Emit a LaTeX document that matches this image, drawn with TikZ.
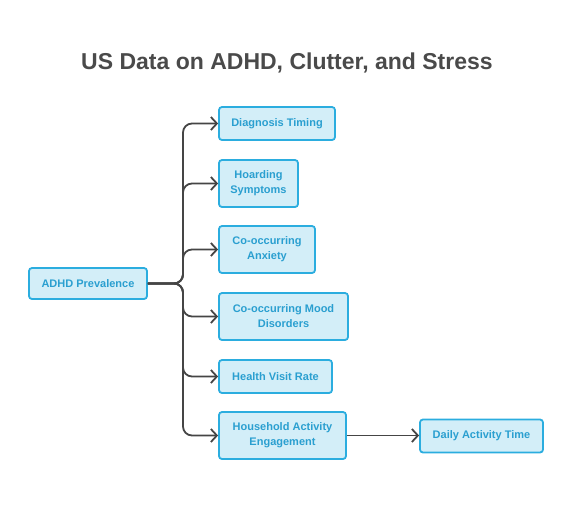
\documentclass[tikz,border=0pt]{standalone}
\usepackage{fontspec}
\setmainfont{Liberation Sans}
\usetikzlibrary{arrows.meta}

\definecolor{boxline}{HTML}{2BADDF}
\definecolor{boxfill}{HTML}{D3EEF8}
\definecolor{boxtext}{HTML}{2A9FD0}
\definecolor{linkgray}{HTML}{454545}
\definecolor{titlegray}{HTML}{4A4A4A}

\tikzset{
  topic/.style={draw=boxline, fill=boxfill, line width=1.8pt, rounded corners=3pt,
    text=boxtext, font=\bfseries\fontsize{11}{15}\selectfont, align=center, anchor=center},
  link/.style={draw=linkgray, line width=1.8pt, rounded corners=9pt,
    -{Straight Barb[length=6pt,width=13pt,line width=1.8pt]}}
}

\begin{document}
\begin{tikzpicture}
[x=1pt,y=-1pt]

  \useasboundingbox (0,0) rectangle (574,515);
  \node[font=\bfseries\fontsize{23}{26}\selectfont, text=titlegray] (title) at (287,63)
    {US Data on ADHD, Clutter, and Stress};

  % left root and its fan of topics
  \node[topic, minimum width=118pt, minimum height=31pt] (adhd) at (88,283.5) {ADHD Prevalence};
  \node[topic, minimum width=116pt, minimum height=33pt] (diag) at (277,123.5) {Diagnosis Timing};
  \node[topic, minimum width=79pt, minimum height=47pt] (hoard) at (258.5,183.5) {Hoarding\\Symptoms};
  \node[topic, minimum width=96pt, minimum height=47pt] (anx) at (267,249.5) {Co-occurring\\Anxiety};
  \node[topic, minimum width=129pt, minimum height=47pt] (mood) at (283.5,316.5) {Co-occurring Mood\\Disorders};
  \node[topic, minimum width=113pt, minimum height=33pt] (visit) at (275.5,376.5) {Health Visit Rate};
  \node[topic, minimum width=127pt, minimum height=47pt] (house) at (282.5,435.5) {Household Activity\\Engagement};
  \node[topic, minimum width=123pt, minimum height=33pt] (daily) at (481.5,436) {Daily Activity Time};

  \coordinate (hub) at (183,283.5);

  \foreach \t in {diag,hoard,anx,mood,visit,house}
    \draw[link] (adhd.east) -- (hub) |- (\t.west);

  \draw[link] (house.east) -- (house.east -| daily.west);
\end{tikzpicture}
\end{document}
